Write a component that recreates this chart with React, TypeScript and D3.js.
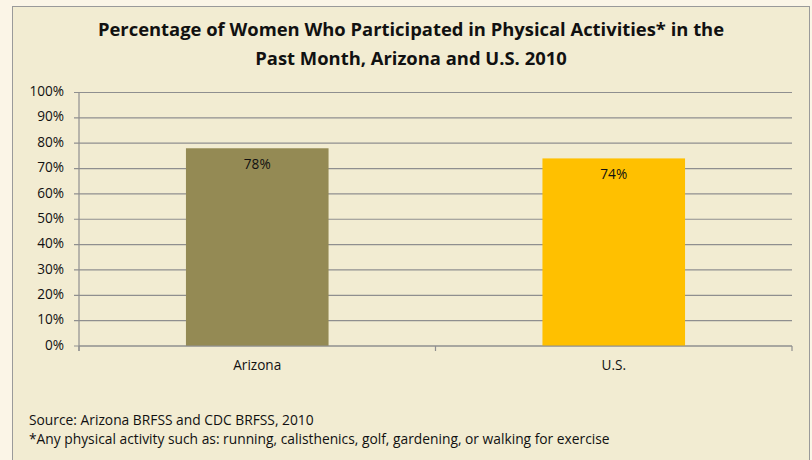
import React from 'react';
import * as d3 from 'd3';

const categories = ['Arizona', 'U.S.'];
const values = [78, 74];
const barColors = ['#948a54', '#ffc000'];
const yTicks = [0, 10, 20, 30, 40, 50, 60, 70, 80, 90, 100];
const titleLines = [
  'Percentage of Women Who Participated in Physical Activities* in the',
  'Past Month, Arizona and U.S. 2010',
];
const notes = [
  'Source: Arizona BRFSS and CDC BRFSS, 2010',
  '*Any physical activity such as: running, calisthenics, golf, gardening, or walking for exercise',
];

const W = 812;
const H = 460;
const font = '"Open Sans", Lato, sans-serif';

const App: React.FC = () => {
  const plot = { left: 79, right: 792, top: 92.5, bottom: 346 };

  const x = d3.scaleBand<string>()
    .domain(categories)
    .range([plot.left, plot.right])
    .padding(0);
  const barW = x.bandwidth() * 0.4;

  const y = d3.scaleLinear()
    .domain([0, 100])
    .range([plot.bottom, plot.top]);

  return (
    <svg
      width={W}
      height={H}
      style={{ position: 'absolute', left: 0, top: 0, display: 'block' }}
      fontFamily={font}
    >
      <rect x={0} y={0} width={W} height={H} fill="#fbf5e7" />
      <rect x={12.5} y={6.5} width={797} height={470} fill="#f2ecd2" stroke="#9a9a9a" strokeWidth={1} />

      {/* Title */}
      {titleLines.map((t, i) => (
        <text
          key={i}
          x={411}
          y={31 + i * 29}
          textAnchor="middle"
          dominantBaseline="middle"
          fontSize={18.4}
          fontWeight="bold"
          fill="#111"
        >
          {t}
        </text>
      ))}

      {/* Gridlines & y ticks */}
      {yTicks.map(t => (
        <g key={t}>
          <line x1={plot.left - 5} x2={plot.right} y1={y(t)} y2={y(t)} stroke="#8f8f8f" strokeWidth={1.2} />
          <text
            x={64}
            y={y(t)}
            textAnchor="end"
            dominantBaseline="middle"
            fontSize={13.6}
            fill="#111"
          >
            {t}%
          </text>
        </g>
      ))}
      <line x1={plot.left} x2={plot.left} y1={plot.top} y2={plot.bottom + 5} stroke="#8f8f8f" strokeWidth={1.2} />

      {/* Bars */}
      {categories.map((c, i) => {
        const cx = (x(c) ?? 0) + x.bandwidth() / 2;
        return (
          <g key={c}>
            <rect
              x={cx - barW / 2}
              y={y(values[i])}
              width={barW}
              height={y(0) - y(values[i])}
              fill={barColors[i]}
            />
            <text
              x={cx}
              y={y(values[i]) + 17}
              textAnchor="middle"
              dominantBaseline="middle"
              fontSize={13.6}
              fill="#111"
            >
              {values[i]}%
            </text>
            <text
              x={cx}
              y={366}
              textAnchor="middle"
              dominantBaseline="middle"
              fontSize={13.6}
              fill="#111"
            >
              {c}
            </text>
          </g>
        );
      })}

      {/* x axis */}
      <line x1={plot.left} x2={plot.right} y1={plot.bottom} y2={plot.bottom} stroke="#8f8f8f" strokeWidth={1.2} />
      {[...categories.map(c => x(c) ?? 0), plot.right].map((v, i) => (
        <line key={i} x1={v} x2={v} y1={plot.bottom} y2={plot.bottom + 5} stroke="#8f8f8f" strokeWidth={1.2} />
      ))}

      {/* Notes */}
      {notes.map((n, i) => (
        <text
          key={i}
          x={29}
          y={421 + i * 19}
          dominantBaseline="middle"
          fontSize={13.8}
          fill="#111"
        >
          {n}
        </text>
      ))}
    </svg>
  );
};

export default App;
